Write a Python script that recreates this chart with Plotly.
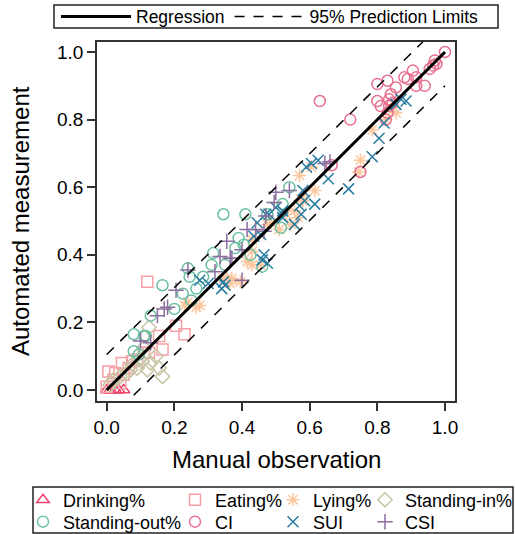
import plotly.graph_objects as go

# ---------------- data ----------------
drink_x = [0.00, 0.01, 0.025, 0.035, 0.05]
drink_y = [0.00, 0.00, 0.00, 0.00, 0.00]

eat_x = [0.00, 0.005, 0.02, 0.025, 0.04, 0.045, 0.05, 0.065, 0.075, 0.09, 0.11, 0.125, 0.12, 0.155, 0.165, 0.205, 0.23]
eat_y = [0.01, 0.055, 0.03, 0.05, 0.02, 0.08, 0.045, 0.065, 0.085, 0.09, 0.11, 0.11, 0.32, 0.16, 0.12, 0.19, 0.165]

lying_x = [0.23, 0.24, 0.265, 0.275, 0.345, 0.355, 0.365, 0.37, 0.395, 0.415, 0.43, 0.43, 0.43, 0.455, 0.475, 0.485,
           0.51, 0.53, 0.545, 0.555, 0.565, 0.575, 0.58, 0.605, 0.615, 0.57, 0.745, 0.75, 0.785, 0.825, 0.84, 0.855]
lying_y = [0.25, 0.26, 0.245, 0.25, 0.33, 0.33, 0.315, 0.33, 0.32, 0.38, 0.41, 0.445, 0.37, 0.37, 0.49, 0.495,
           0.475, 0.52, 0.49, 0.53, 0.51, 0.565, 0.56, 0.66, 0.59, 0.635, 0.645, 0.68, 0.77, 0.80, 0.835, 0.82]

sin_x = [0.01, 0.02, 0.04, 0.06, 0.07, 0.075, 0.09, 0.095, 0.105, 0.11, 0.12, 0.125, 0.13, 0.145, 0.155, 0.165]
sin_y = [0.015, 0.03, 0.04, 0.05, 0.06, 0.075, 0.065, 0.09, 0.085, 0.125, 0.06, 0.185, 0.08, 0.10, 0.065, 0.04]

sout_x = [0.08, 0.08, 0.095, 0.11, 0.115, 0.13, 0.165, 0.20, 0.225, 0.24, 0.25, 0.245, 0.265, 0.285, 0.31, 0.315,
          0.345, 0.35, 0.38, 0.39, 0.405, 0.41, 0.425, 0.46, 0.475, 0.515, 0.52, 0.54]
sout_y = [0.115, 0.165, 0.105, 0.16, 0.16, 0.22, 0.31, 0.24, 0.285, 0.36, 0.265, 0.335, 0.30, 0.335, 0.37, 0.405,
          0.52, 0.37, 0.42, 0.45, 0.43, 0.52, 0.40, 0.365, 0.52, 0.48, 0.55, 0.60]

ci_x = [0.63, 0.665, 0.72, 0.75, 0.80, 0.80, 0.81, 0.825, 0.83, 0.83, 0.835, 0.835, 0.84, 0.845, 0.855, 0.88, 0.89,
        0.905, 0.915, 0.915, 0.94, 0.955, 0.965, 0.97, 0.975, 1.00]
ci_y = [0.855, 0.665, 0.80, 0.645, 0.905, 0.855, 0.84, 0.80, 0.915, 0.82, 0.84, 0.86, 0.875, 0.85, 0.895, 0.925, 0.92,
        0.945, 0.925, 0.90, 0.90, 0.95, 0.96, 0.975, 0.965, 1.00]

sui_x = [0.275, 0.30, 0.34, 0.345, 0.35, 0.435, 0.445, 0.455, 0.46, 0.465, 0.47, 0.475, 0.48, 0.50, 0.52, 0.52, 0.555,
         0.57, 0.575, 0.58, 0.585, 0.59, 0.605, 0.615, 0.625, 0.655, 0.715, 0.785, 0.805, 0.82, 0.855, 0.87, 0.885]
sui_y = [0.325, 0.315, 0.30, 0.32, 0.31, 0.455, 0.495, 0.46, 0.385, 0.40, 0.52, 0.375, 0.52, 0.54, 0.51, 0.53, 0.49,
         0.545, 0.52, 0.59, 0.56, 0.66, 0.67, 0.55, 0.68, 0.625, 0.595, 0.69, 0.745, 0.79, 0.845, 0.86, 0.855]

csi_x = [0.10, 0.13, 0.15, 0.17, 0.18, 0.205, 0.24, 0.32, 0.335, 0.355, 0.365, 0.37, 0.40, 0.40, 0.415, 0.44, 0.465,
         0.47, 0.495, 0.50, 0.54, 0.645, 0.66]
csi_y = [0.145, 0.14, 0.22, 0.24, 0.245, 0.295, 0.355, 0.35, 0.395, 0.44, 0.39, 0.39, 0.415, 0.325, 0.475, 0.475, 0.47,
         0.515, 0.555, 0.585, 0.59, 0.67, 0.675]

# regression line and 95% prediction limits (end points)
reg_x = [0.0, 1.0]
reg_y = [0.0, 1.0]
pi_x = [0.0, 1.0]
pi_upper = [0.105, 1.095]
pi_lower = [-0.095, 0.90]

tick_vals = [0.0, 0.2, 0.4, 0.6, 0.8, 1.0]
tick_text = ["0.0", "0.2", "0.4", "0.6", "0.8", "1.0"]

x_title = "Manual observation"
y_title = "Automated measurement"

# ---------------- styling ----------------
FONT = "Liberation Sans, Arial, sans-serif"
W, H = 515, 534
L, R, T, B = 97, 60, 42, 133
PW, PH = W - L - R, H - T - B


def px_x(px):          # pixel -> paper x
    return (px - L) / PW


def px_y(py):          # pixel -> paper y
    return (H - B - py) / PH


def cx(px):            # pixel -> container x
    return px / W


def cy(py):            # pixel -> container y
    return 1 - py / H


series = [
    ("Drinking%", drink_x, drink_y, "triangle-up-open", "#F0446E", 60, 500),
    ("Eating%", eat_x, eat_y, "square-open", "#F5A0A4", 212, 500),
    ("Lying%", lying_x, lying_y, "asterisk-open", "#FDC79E", 310, 500),
    ("Standing-in%", sin_x, sin_y, "diamond-open", "#C8C5A5", 402, 500),
    ("Standing-out%", sout_x, sout_y, "circle-open", "#6CC0A2", 60, 522),
    ("CI", ci_x, ci_y, "circle-open", "#E8708F", 212, 522),
    ("SUI", sui_x, sui_y, "x-thin-open", "#2A7CA0", 310, 522),
    ("CSI", csi_x, csi_y, "cross-thin-open", "#8A6E9E", 402, 522),
]

fig = go.Figure()
layout_legends = {}
for i, (name, xs, ys, sym, col, tx, ty) in enumerate(series):
    lname = "legend%d" % (i + 2)
    fig.add_trace(go.Scatter(
        x=xs, y=ys, mode="markers", name=name, legend=lname,
        marker=dict(symbol=sym, size=11, color=col, line=dict(color=col, width=1.5)),
    ))
    layout_legends[lname] = dict(
        xref="container", yref="container",
        x=cx(tx - 37), y=cy(ty), xanchor="left", yanchor="middle",
        bgcolor="rgba(0,0,0,0)", borderwidth=0,
        font=dict(family=FONT, size=18, color="black"),
    )

fig.add_trace(go.Scatter(x=reg_x, y=reg_y, mode="lines", name="Regression", legend="legend",
                         line=dict(color="black", width=3)))
fig.add_trace(go.Scatter(x=pi_x, y=pi_upper, mode="lines", name="95% Prediction Limits", legend="legend",
                         line=dict(color="black", width=1.5, dash="10px,9px")))
fig.add_trace(go.Scatter(x=pi_x, y=pi_lower, mode="lines", name="95% Prediction Limits", legend="legend",
                         showlegend=False, line=dict(color="black", width=1.5, dash="10px,9px")))

axis_common = dict(
    showgrid=False, zeroline=False, showline=True, linecolor="#333333", linewidth=1.5, mirror=True,
    ticks="outside", ticklen=8, tickwidth=1.5, tickcolor="#333333", automargin=False,
    tickvals=tick_vals, ticktext=tick_text,
    tickfont=dict(family=FONT, size=19, color="black"),
)

box_line = dict(color="#222222", width=1.5)

fig.update_layout(
    template="none",
    width=W, height=H,
    margin=dict(l=L, r=R, t=T, b=B, autoexpand=False),
    paper_bgcolor="white", plot_bgcolor="white",
    font=dict(family=FONT, color="black"),
    xaxis=dict(axis_common, range=[-0.0287, 1.0296]),
    yaxis=dict(axis_common, range=[-0.0325, 1.0296]),
    legend=dict(
        orientation="h", x=px_x(56), y=px_y(16.5), xanchor="left", yanchor="middle",
        borderwidth=0, bgcolor="rgba(0,0,0,0)",
        font=dict(family=FONT, size=17.5, color="black"), itemwidth=70,
    ),
    shapes=[
        dict(type="rect", xref="paper", yref="paper",
             x0=px_x(54), x1=px_x(498), y0=px_y(28), y1=px_y(5), line=box_line),
        dict(type="rect", xref="paper", yref="paper",
             x0=px_x(33), x1=px_x(513), y0=px_y(533), y1=px_y(487), line=box_line),
    ],
    annotations=[
        dict(text=x_title, xref="paper", yref="paper", x=px_x(276), y=px_y(459),
             xanchor="center", yanchor="middle", showarrow=False,
             font=dict(family=FONT, size=24, color="black")),
        dict(text=y_title, xref="paper", yref="paper", x=px_x(20), y=px_y(221),
             xanchor="center", yanchor="middle", showarrow=False, textangle=-90,
             font=dict(family=FONT, size=24, color="black")),
    ],
    **layout_legends,
)

fig.write_html("out.html")
